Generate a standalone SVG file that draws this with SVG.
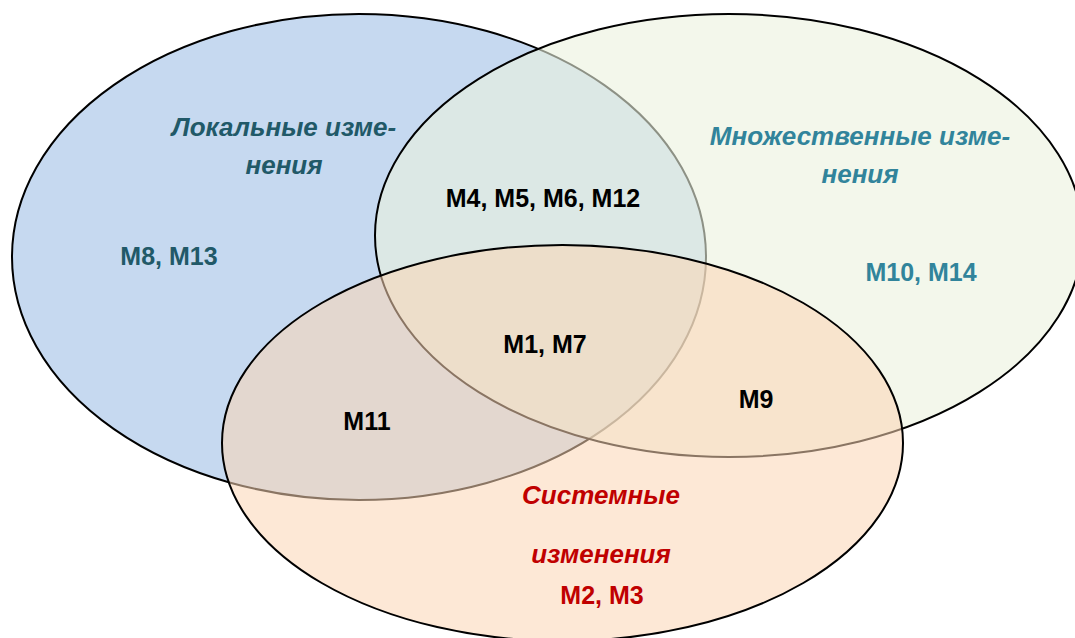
<svg xmlns="http://www.w3.org/2000/svg" width="1075" height="638" viewBox="0 0 1075 638">
  <style>
    .set { stroke: #000; stroke-width: 2; }
    .t { font-family: "Liberation Sans", Arial, sans-serif; font-weight: bold; text-anchor: middle; }
    .title { font-size: 26px; font-style: italic; }
    .lbl { font-size: 25px; }
    .local { fill: #215968; }
    .multi { fill: #31849B; }
    .sys { fill: #C00000; }
    .blk { fill: #000; }
  </style>
  <rect width="1075" height="638" fill="#fff"/>
  <g id="set-local">
    <ellipse class="set" cx="359" cy="257" rx="347" ry="243" fill="#C6D9F0"/>
  </g>
  <g id="set-multiple">
    <ellipse class="set" cx="729" cy="235.5" rx="354" ry="221.5" fill="#EBF1DE" fill-opacity="0.6"/>
  </g>
  <g id="set-system">
    <ellipse class="set" cx="562.5" cy="443" rx="340.5" ry="198" fill="#FBD5B5" fill-opacity="0.55"/>
  </g>
  <g id="label-local">
    <text class="t title local" x="284" y="136">Локальные изме-</text>
    <text class="t title local" x="284" y="174">нения</text>
    <text class="t lbl local" x="169" y="265">M8, M13</text>
  </g>
  <g id="label-multiple">
    <text class="t title multi" x="860" y="145">Множественные изме-</text>
    <text class="t title multi" x="860" y="183">нения</text>
    <text class="t lbl multi" x="921" y="281">M10, M14</text>
  </g>
  <g id="label-system">
    <text class="t title sys" x="601" y="504">Системные</text>
    <text class="t title sys" x="601" y="563">изменения</text>
    <text class="t lbl sys" x="602" y="604">M2, M3</text>
  </g>
  <g id="region-local-multiple">
    <text class="t lbl blk" x="543" y="207">M4, M5, M6, M12</text>
  </g>
  <g id="region-all">
    <text class="t lbl blk" x="545" y="353">M1, M7</text>
  </g>
  <g id="region-local-system">
    <text class="t lbl blk" x="367" y="430">M11</text>
  </g>
  <g id="region-multiple-system">
    <text class="t lbl blk" x="756" y="408">M9</text>
  </g>
  <g id="connectors"/>
</svg>
